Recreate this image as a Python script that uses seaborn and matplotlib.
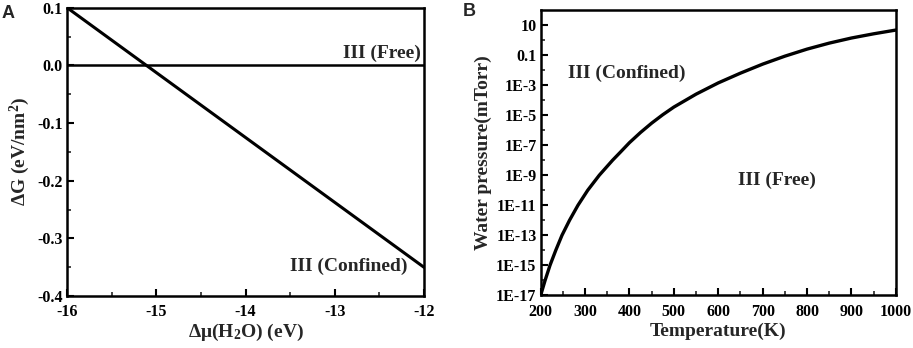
import numpy as np
import pandas as pd
import matplotlib
matplotlib.use("Agg")
import matplotlib.pyplot as plt
import seaborn as sns
from matplotlib.ticker import FixedLocator, MultipleLocator, NullFormatter

# Panel A: free energy difference vs water chemical potential
mu_h2o = [-16.0, -12.0]
delta_g = [0.1, -0.35]
ref_line = [0.0, 0.0]
a_xticks = [-16, -15, -14, -13, -12]
a_xlabels = ["-16", "-15", "-14", "-13", "-12"]
a_yticks = [0.1, 0.0, -0.1, -0.2, -0.3, -0.4]
a_ylabels = ["0.1", "0.0", "-0.1", "-0.2", "-0.3", "-0.4"]

# Panel B: phase boundary, water pressure (log10 of mTorr) vs temperature
temperature = [200, 210, 221, 234, 248, 265, 284, 306, 332, 362, 380, 400,
               425, 450, 475, 500, 550, 600, 650, 700, 750, 800, 850, 900,
               950, 1000]
log_pressure = [-17.0, -16.0, -15.0, -14.0, -13.0, -12.0, -11.0, -10.0, -9.0,
                -8.0, -7.45, -6.83, -6.15, -5.53, -4.97, -4.46, -3.6, -2.85,
                -2.2, -1.6, -1.07, -0.6, -0.2, 0.14, 0.42, 0.67]
b_yticks = [1e1, 1e-1, 1e-3, 1e-5, 1e-7, 1e-9, 1e-11, 1e-13, 1e-15, 1e-17]
b_ylabels = ["10", "0.1", "1E-3", "1E-5", "1E-7", "1E-9", "1E-11", "1E-13",
             "1E-15", "1E-17"]
b_xticks = [200, 300, 400, 500, 600, 700, 800, 900, 1000]

df_b = pd.DataFrame({"T": temperature, "p": 10.0 ** np.array(log_pressure)})

sns.set_theme(style="ticks")
plt.rcParams["font.family"] = ["Liberation Serif", "DejaVu Serif"]
plt.rcParams["font.weight"] = "bold"
plt.rcParams["mathtext.fontset"] = "custom"
plt.rcParams["mathtext.rm"] = "Liberation Serif:bold"
plt.rcParams["mathtext.bf"] = "Liberation Serif:bold"
plt.rcParams["mathtext.default"] = "bf"

fig = plt.figure(figsize=(9.13, 3.48), dpi=100)
ax1 = fig.add_axes([0.0734, 0.149, 0.391, 0.829])
ax2 = fig.add_axes([0.5922, 0.1514, 0.389, 0.8196])

# --- panel A
sns.lineplot(x=mu_h2o, y=delta_g, ax=ax1, color="black", lw=2.2)
sns.lineplot(x=mu_h2o, y=ref_line, ax=ax1, color="black", lw=1.8)
ax1.set_xlim(-16, -12)
ax1.set_ylim(-0.4, 0.1)
ax1.xaxis.set_major_locator(FixedLocator(a_xticks))
ax1.set_xticklabels(a_xlabels)
ax1.yaxis.set_major_locator(FixedLocator(a_yticks))
ax1.set_yticklabels(a_ylabels)
ax1.xaxis.set_minor_locator(MultipleLocator(0.5))
ax1.yaxis.set_minor_locator(MultipleLocator(0.05))
ax1.set_xlabel(r"Δμ(H$_{2}$O) (eV)", fontsize=14, fontweight="bold", labelpad=1)
ax1.set_ylabel(r"ΔG (eV/nm$^{2}$)", fontsize=14, fontweight="bold", labelpad=4)
ax1.text(-12.04, 0.020, "III (Free)", ha="right", va="center", fontsize=14, fontweight="bold")
ax1.text(-12.19, -0.349, "III (Confined)", ha="right", va="center", fontsize=14, fontweight="bold")

# --- panel B
sns.lineplot(data=df_b, x="T", y="p", ax=ax2, color="black", lw=2.4)
ax2.set_yscale("log")
ax2.set_xlim(200, 1000)
ax2.set_ylim(1e-17, 1e2)
ax2.yaxis.set_major_locator(FixedLocator(b_yticks))
ax2.set_yticklabels(b_ylabels)
ax2.yaxis.set_minor_locator(FixedLocator([10.0 ** k for k in range(-16, 2, 2)]))
ax2.yaxis.set_minor_formatter(NullFormatter())
ax2.xaxis.set_major_locator(FixedLocator(b_xticks))
ax2.xaxis.set_minor_locator(MultipleLocator(50))
ax2.set_xlabel("Temperature(K)", fontsize=14, fontweight="bold", labelpad=2)
ax2.set_ylabel("Water pressure(mTorr)", fontsize=14, fontweight="bold", labelpad=3)
ax2.text(393, 10 ** -2.2, "III (Confined)", ha="center", va="center", fontsize=14, fontweight="bold")
ax2.text(733, 10 ** -9.33, "III (Free)", ha="center", va="center", fontsize=14, fontweight="bold")

for ax in (ax1, ax2):
    for sp in ax.spines.values():
        sp.set_linewidth(1.8)
        sp.set_color("black")
    ax.tick_params(which="major", direction="in", length=5, width=1.5,
                   labelsize=11.5, pad=3, top=False, right=False, colors="black")
    ax.tick_params(axis="x", which="major", pad=6)
    ax.tick_params(which="minor", direction="in", length=3, width=1.2,
                   top=False, right=False)
    for lab in ax.get_xticklabels() + ax.get_yticklabels():
        lab.set_fontweight("bold")

fig.text(0.002, 0.96, "A", fontsize=13, fontweight="bold", family="Liberation Sans", va="center")
fig.text(0.507, 0.966, "B", fontsize=13, fontweight="bold", family="Liberation Sans", va="center")

fig.savefig("out.png", dpi=100)
